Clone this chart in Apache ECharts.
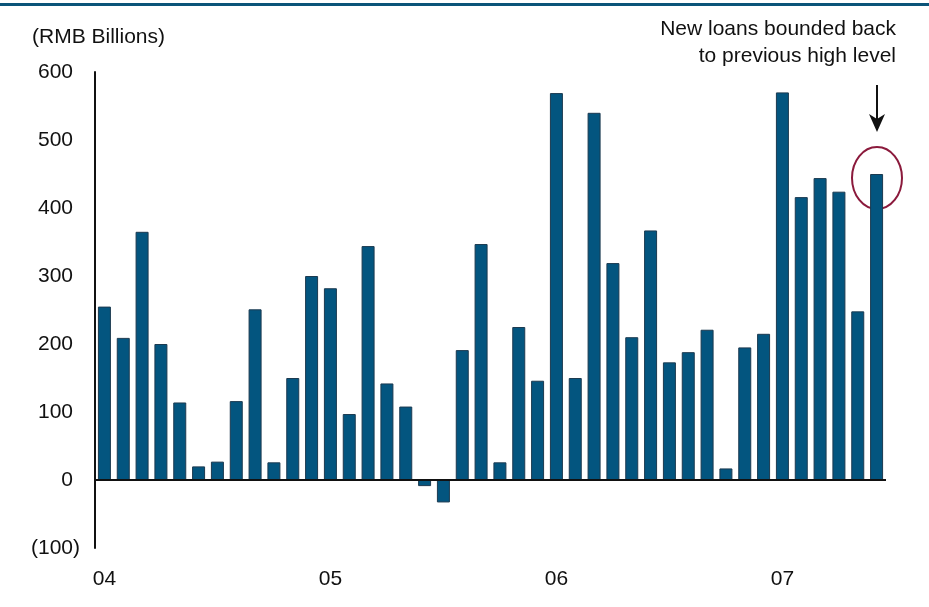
<!DOCTYPE html>
<html>
<head>
<meta charset="utf-8">
<script src="https://cdn.jsdelivr.net/npm/echarts@6/dist/echarts.min.js"></script>
<style>
  html, body { margin: 0; padding: 0; background: #fff; }
  #main { width: 929px; height: 607px; }
</style>
</head>
<body>
<div id="main"></div>
<script>
// monthly new loans, Jan 2004 - Jun 2007
const months = [
  '04-01', '04-02', '04-03', '04-04', '04-05', '04-06', '04-07', '04-08', '04-09', '04-10', '04-11', '04-12',
  '05-01', '05-02', '05-03', '05-04', '05-05', '05-06', '05-07', '05-08', '05-09', '05-10', '05-11', '05-12',
  '06-01', '06-02', '06-03', '06-04', '06-05', '06-06', '06-07', '06-08', '06-09', '06-10', '06-11', '06-12',
  '07-01', '07-02', '07-03', '07-04', '07-05', '07-06'
];
const newLoans = [
  255, 209, 365, 200, 114, 20, 27, 116, 251, 26, 150, 300,
  282, 97, 344, 142, 108, -9, -33, 191, 347, 26, 225, 146,
  569, 150, 540, 319, 210, 367, 173, 188, 221, 17, 195, 215,
  570, 416, 444, 424, 248, 450
];
const yTicks = { min: -100, max: 600, step: 100 };
const unitLabel = '(RMB Billions)';
const noteText = 'New loans bounded back\nto previous high level';

const FONT = 'Liberation Sans, Arial, sans-serif';
const FS = 21;
const BAR = '#03557f';

let myChart = echarts.init(document.getElementById('main'));

myChart.setOption({
  animation: false,
  backgroundColor: '#fff',
  title: {
    text: unitLabel,
    left: 27,
    top: 22,
    textStyle: { fontFamily: FONT, fontSize: FS, fontWeight: 'normal', color: '#111' }
  },
  grid: { left: 95, right: 43, top: 72, bottom: 59 },
  xAxis: {
    type: 'category',
    data: months,
    axisLine: { show: false, onZero: false },
    axisTick: { show: false },
    axisLabel: {
      interval: 0,
      margin: 21,
      fontFamily: FONT,
      fontSize: FS,
      color: '#111',
      formatter: function (v) {
        return v.slice(3) === '01' ? v.slice(0, 2) : '';
      }
    }
  },
  yAxis: {
    type: 'value',
    min: yTicks.min,
    max: yTicks.max,
    interval: yTicks.step,
    splitLine: { show: false },
    axisTick: { show: false },
    axisLine: { show: true, lineStyle: { color: '#111', width: 2 } },
    axisLabel: {
      margin: 15,
      fontFamily: FONT,
      fontSize: FS,
      color: '#111',
      formatter: function (v) {
        return v < 0 ? '(' + Math.abs(v) + ')' : v + '{h|)}';
      },
      rich: { h: { color: 'rgba(0,0,0,0)', fontFamily: FONT, fontSize: FS } }
    }
  },
  series: [
    {
      type: 'bar',
      data: newLoans,
      barWidth: 13,
      itemStyle: { color: BAR, borderColor: '#1c3a50', borderWidth: 1 },
      markLine: {
        silent: true,
        symbol: 'none',
        label: { show: false },
        lineStyle: { color: '#111', width: 2, type: 'solid' },
        data: [{ yAxis: 0 }]
      }
    }
  ]
});

// annotation around the last bar
const last = newLoans.length - 1;
const pt = myChart.convertToPixel({ seriesIndex: 0 }, [last, newLoans[last]]);
const ax = Math.round(pt[0]);

myChart.setOption({
  graphic: [
    { type: 'rect', shape: { x: 0, y: 3, width: 929, height: 3 }, style: { fill: '#0b5479' } },
    {
      type: 'text',
      style: {
        text: noteText,
        x: 896,
        y: 16,
        textAlign: 'right',
        lineHeight: 27,
        fontFamily: FONT,
        fontSize: FS,
        fill: '#111'
      }
    },
    {
      type: 'line',
      shape: { x1: ax, y1: pt[1] - 89, x2: ax, y2: pt[1] - 55 },
      style: { stroke: '#111', lineWidth: 2 }
    },
    {
      type: 'polygon',
      shape: { points: [[ax - 8, pt[1] - 60], [ax, pt[1] - 55], [ax + 8, pt[1] - 60], [ax, pt[1] - 42]] },
      style: { fill: '#111' }
    },
    {
      type: 'ellipse',
      shape: { cx: ax, cy: pt[1] + 4, rx: 25, ry: 31 },
      style: { fill: 'none', stroke: '#8b1a3c', lineWidth: 2 }
    }
  ]
});
</script>
</body>
</html>
